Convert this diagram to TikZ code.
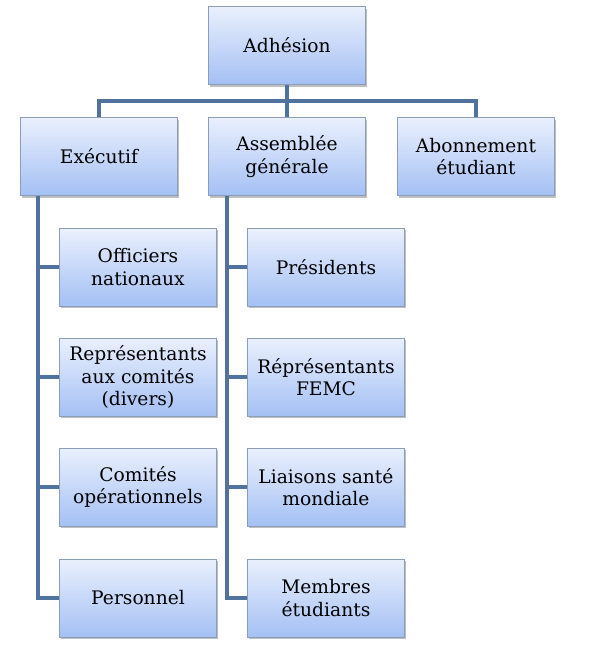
\documentclass[tikz,border=0pt]{standalone}
\usepackage{fontspec}
\setmainfont{DejaVu Serif}
\usetikzlibrary{shadows}
\definecolor{linec}{HTML}{4F739C}
\definecolor{boxtop}{HTML}{EAF0FD}
\definecolor{boxbot}{HTML}{A4C0F4}
\definecolor{boxdraw}{HTML}{8C9DB8}
\begin{document}
\begin{tikzpicture}[x=0.75pt,y=-0.75pt,
  orgbox/.style={draw=boxdraw, line width=0.6pt, top color=boxtop, bottom color=boxbot,
    minimum width=117.5pt, minimum height=58.5pt, inner sep=2pt, align=center,
    font=\fontsize{14}{17}\selectfont,
    drop shadow={shadow xshift=1.2pt, shadow yshift=-1.5pt, fill=black, opacity=0.25}},
  conn/.style={draw=linec, line width=3pt}]
\useasboundingbox (0,0) rectangle (609,651);
\node[orgbox] (adh) at (287,45.5) {Adhésion};
\node[orgbox] (exe) at (99,156.5) {Exécutif};
\node[orgbox] (ass) at (287,156.5) {Assemblée\\générale};
\node[orgbox] (abo) at (476,156.5) {Abonnement\\étudiant};
\node[orgbox] (off) at (138,267) {Officiers\\nationaux};
\node[orgbox] (rep) at (138,377) {Représentants\\aux comités\\(divers)};
\node[orgbox] (com) at (138,487) {Comités\\opérationnels};
\node[orgbox] (per) at (138,598) {Personnel};
\node[orgbox] (pre) at (326,267) {Présidents};
\node[orgbox] (fem) at (326,377) {Réprésentants\\FEMC};
\node[orgbox] (lia) at (326,487) {Liaisons santé\\mondiale};
\node[orgbox] (mem) at (326,598) {Membres\\étudiants};
\coordinate (bar) at (287,101);
\coordinate (tl) at (38,0);
\coordinate (tm) at (227,0);
\draw[conn] (adh.south) -- (bar);
\draw[conn] (exe.north) |- (bar) -| (abo.north);
\draw[conn] (ass.north) -- (bar);
\draw[conn] (exe.south -| tl) -- (per.west -| tl) -- (per.west);
\draw[conn] (off.west -| tl) -- (off.west);
\draw[conn] (rep.west -| tl) -- (rep.west);
\draw[conn] (com.west -| tl) -- (com.west);
\draw[conn] (ass.south -| tm) -- (mem.west -| tm) -- (mem.west);
\draw[conn] (pre.west -| tm) -- (pre.west);
\draw[conn] (fem.west -| tm) -- (fem.west);
\draw[conn] (lia.west -| tm) -- (lia.west);
\end{tikzpicture}
\end{document}
